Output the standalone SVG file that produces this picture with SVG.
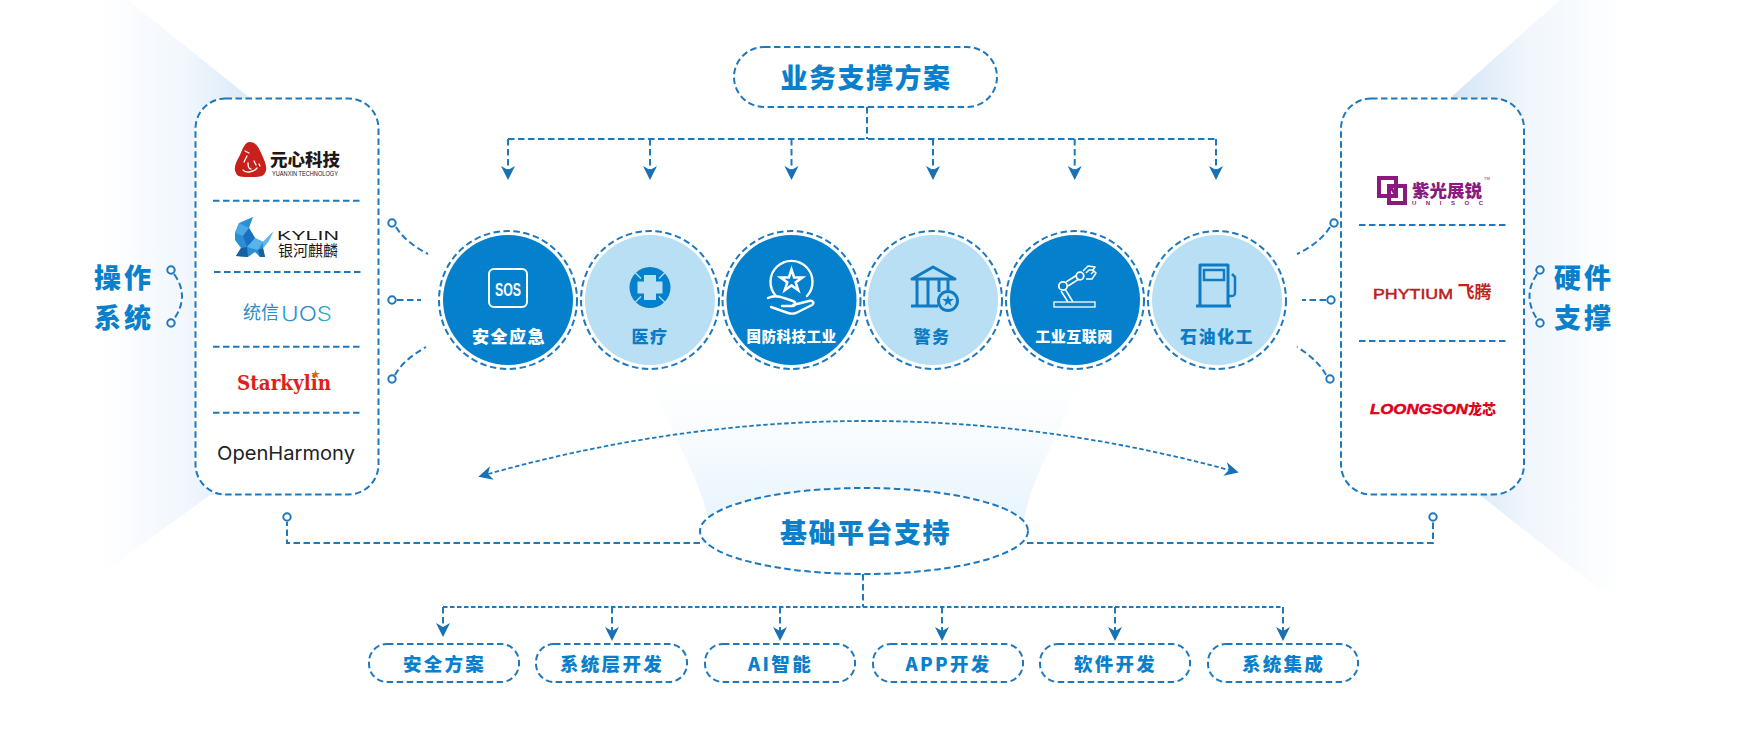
<svg xmlns="http://www.w3.org/2000/svg" xmlns:xlink="http://www.w3.org/1999/xlink" width="1750" height="748" viewBox="0 0 1750 748">
<style>
text{font-family:"Noto Sans CJK SC","Noto Sans",sans-serif;text-anchor:middle}
.d{fill:none;stroke:#1e78bd;stroke-width:2;stroke-dasharray:6.5 3.5}
.dt{fill:none;stroke:#1e78bd;stroke-width:1.8;stroke-dasharray:4.5 2.5}
.box{fill:#fff;stroke:#1e78bd;stroke-width:2;stroke-dasharray:6.5 3.5}
.pin{fill:#fff;stroke:#1e78bd;stroke-width:2}
.h1{fill:#0a80cc;font-size:27px;font-weight:900;letter-spacing:1.500px;dominant-baseline:central}
.h2{fill:#0a80cc;font-size:27px;font-weight:900;letter-spacing:3px;dominant-baseline:central}
.h3{fill:#0a80cc;font-size:18.500px;font-weight:900;letter-spacing:2.300px;dominant-baseline:central}
.lw{fill:#fff;font-weight:900;font-size:17px;letter-spacing:1.500px;dominant-baseline:central}
.lb{fill:#0a7cc6;font-weight:900;font-size:17px;letter-spacing:1.500px;dominant-baseline:central}
.ring{fill:#fff;stroke:#1e78bd;stroke-width:2;stroke-dasharray:6.500 3.500}
.dk{fill:#0480cc}
.lt{fill:#b8dff3}
.iw{fill:none;stroke:#fff;stroke-width:2.400;stroke-linecap:round;stroke-linejoin:round}
.ib{fill:none;stroke:#0f7bc4;stroke-width:3;stroke-linejoin:round}
</style>
<defs>
<linearGradient id="gl" gradientUnits="userSpaceOnUse" x1="100" y1="0" x2="255" y2="0"><stop offset="0" stop-color="#fff"/><stop offset="0.55" stop-color="#f1f7fd"/><stop offset="1" stop-color="#d8e9f8"/></linearGradient>
<linearGradient id="gr" gradientUnits="userSpaceOnUse" x1="1450" y1="0" x2="1620" y2="0"><stop offset="0" stop-color="#d2e5f6"/><stop offset="0.45" stop-color="#f0f6fc"/><stop offset="1" stop-color="#fff"/></linearGradient>
<linearGradient id="gc" gradientUnits="userSpaceOnUse" x1="0" y1="372" x2="0" y2="520"><stop offset="0" stop-color="#fff"/><stop offset="0.4" stop-color="#f9fcfe"/><stop offset="1" stop-color="#e8f4fd"/></linearGradient>
<linearGradient id="guos" gradientUnits="userSpaceOnUse" x1="281" y1="0" x2="332" y2="0"><stop offset="0" stop-color="#2f9fe0"/><stop offset="0.6" stop-color="#2a7fc8"/><stop offset="1" stop-color="#35c0c0"/></linearGradient>
<marker id="ah" markerUnits="userSpaceOnUse" markerWidth="16" markerHeight="16" refX="4" refY="8" orient="auto-start-reverse" viewBox="0 0 16 16"><path d="M0 1 L14 8 L0 15 L4 8 Z" fill="#1771b4"/></marker>
<polygon id="star" points="0,-10 2.25,-3.09 9.51,-3.09 3.63,1.18 5.88,8.09 0,3.82 -5.88,8.09 -3.63,1.18 -9.51,-3.09 -2.25,-3.09"/>
</defs>

<g id="backdrop">
<polygon points="128,0 250,98 250,495 210,495 100,575 100,0" fill="url(#gl)"/>
<polygon points="1560,0 1450,98 1450,495 1480,495 1600,590 1630,590 1630,0" fill="url(#gr)"/>
<path d="M648 372 C668 430 702 480 708 520 L1024 520 C1030 480 1062 430 1084 372 Z" fill="url(#gc)"/>
</g>

<g id="connectors">
<path class="d" d="M867 107V139"/>
<path class="d" d="M508 139H1216"/>
<path class="d" marker-end="url(#ah)" d="M508 139V170"/>
<path class="d" marker-end="url(#ah)" d="M650 139V170"/>
<path class="d" marker-end="url(#ah)" d="M791.500 139V170"/>
<path class="d" marker-end="url(#ah)" d="M933 139V170"/>
<path class="d" marker-end="url(#ah)" d="M1074.700 139V170"/>
<path class="d" marker-end="url(#ah)" d="M1216 139V170"/>
<path class="dt" marker-start="url(#ah)" marker-end="url(#ah)" d="M488 474Q860 370 1229 470"/>
<path class="d" d="M700 543H287V522"/>
<path class="d" d="M1027 543H1433V522"/>
<path class="d" d="M863 574V607"/>
<path class="dt" d="M443 607H1283"/>
<path class="d" marker-end="url(#ah)" d="M443 607V627"/>
<path class="d" marker-end="url(#ah)" d="M612 607V631"/>
<path class="d" marker-end="url(#ah)" d="M780 607V631"/>
<path class="d" marker-end="url(#ah)" d="M942 607V631"/>
<path class="d" marker-end="url(#ah)" d="M1115 607V631"/>
<path class="d" marker-end="url(#ah)" d="M1283 607V631"/>
<path class="d" d="M396 227Q405 242 428 254"/>
<path class="d" d="M397 300H421"/>
<path class="d" d="M395 375Q403 360 426 347"/>
<path class="d" d="M1330 227Q1320 243 1297 254"/>
<path class="d" d="M1326 300H1302"/>
<path class="d" d="M1326 375Q1318 360 1297 347"/>
<path class="d" d="M174 274Q190 296 174 319"/>
<path class="d" d="M1537 274Q1522 296 1537 319"/>
<circle class="pin" cx="392" cy="223" r="3.700"/><circle class="pin" cx="392" cy="300" r="3.700"/><circle class="pin" cx="392" cy="379" r="3.700"/>
<circle class="pin" cx="1334" cy="223" r="3.700"/><circle class="pin" cx="1331" cy="300" r="3.700"/><circle class="pin" cx="1330" cy="379" r="3.700"/>
<circle class="pin" cx="171" cy="270" r="3.700"/><circle class="pin" cx="171" cy="323" r="3.700"/>
<circle class="pin" cx="1540" cy="270" r="3.700"/><circle class="pin" cx="1540" cy="323" r="3.700"/>
<circle class="pin" cx="287" cy="517" r="3.700"/><circle class="pin" cx="1433" cy="517" r="3.700"/>
</g>

<g id="top-node">
<rect class="box" x="734" y="47" width="263" height="60" rx="30"/>
<text class="h1" x="866" y="76">业务支撑方案</text>
</g>

<g id="os-label"><text class="h2" x="124" y="276">操作</text><text class="h2" x="124" y="316">系统</text></g>
<g id="hw-label"><text class="h2" x="1584" y="276">硬件</text><text class="h2" x="1584" y="316">支撑</text></g>

<g id="os-box">
<rect class="box" x="195.500" y="98.500" width="183" height="396" rx="30"/>
<path class="d" d="M213 200.700H362M214 272H362M213 346.700H362M213 412.700H362"/>
<g id="logo-yuanxin">
<path d="M250 142C256 142 259 148 262 155C265 162 268 168 265 173C263 177 258 177 250 177C242 177 237 177 236 173C233 168 236 162 240 155C243 148 245 142 250 142Z" fill="#c9201c"/>
<path d="M245 151l4 2M247 156l-3 6M243 170c2 3 10 3 14-2M248 163c0 4 1 6 3 6M254 161l2 4M259 164l1 2" fill="none" stroke="#fff" stroke-width="1.300" stroke-linecap="round"/>
<text x="305" y="166" font-size="17.500" font-weight="900" fill="#231815">元心科技</text>
<text x="305" y="176" font-size="6.500" font-weight="500" fill="#231815" textLength="66" lengthAdjust="spacingAndGlyphs" style="font-family:'Liberation Sans',sans-serif">YUANXIN TECHNOLOGY</text>
</g>
<g id="logo-kylin">
<polygon points="235,233 239,223 253,217 249,228 255,238 263,242 273,232 268,242 263,248 265,257 260,257 255,252 248,257 236,256 241,248 235,240" fill="#2b8fd6"/>
<polygon points="235,233 239,223 249,228 243,236" fill="#4aa8e4"/>
<polygon points="243,236 249,228 255,238 247,247" fill="#1a6fc0"/>
<polygon points="255,238 263,242 258,250 247,247" fill="#58b4ea"/>
<polygon points="241,248 247,247 248,257 236,256" fill="#16609f"/>
<polygon points="258,250 263,248 265,257 260,257" fill="#1a5f9e"/>
<polygon points="263,242 273,232 268,242 263,248" fill="#62b8ec"/>
<text x="308" y="240" font-size="12.500" font-weight="400" fill="#231815" textLength="62" lengthAdjust="spacingAndGlyphs" style="font-family:'Liberation Sans',sans-serif">KYLIN</text>
<text x="308" y="256" font-size="15" font-weight="400" fill="#231815">银河麒麟</text>
</g>
<g id="logo-uos">
<text x="261" y="319" font-size="18" font-weight="400" fill="#2a8cc8">统信</text>
<text x="306.500" y="321" font-size="20" font-weight="300" fill="url(#guos)" textLength="51" lengthAdjust="spacingAndGlyphs" style="font-family:'Inter',sans-serif">UOS</text>
</g>
<g id="logo-starkylin">
<text x="284" y="390" font-size="20" font-weight="700" fill="#e01e20" textLength="94" lengthAdjust="spacingAndGlyphs" style="font-family:'DejaVu Serif',serif">Starkylin</text>
<use xlink:href="#star" href="#star" transform="translate(315.500 374.500) scale(.45)" fill="#e8621e"/>
</g>
<g id="logo-openharmony">
<text x="286" y="460" font-size="19" font-weight="400" fill="#222" textLength="138" lengthAdjust="spacingAndGlyphs" style="font-family:'Inter',sans-serif">OpenHarmony</text>
</g>
</g>

<g id="hw-box">
<rect class="box" x="1341" y="98.500" width="183" height="396" rx="30"/>
<path class="d" d="M1359 225H1507M1359 341H1507"/>
<g id="logo-unisoc">
<rect x="1379" y="178" width="17" height="18" fill="none" stroke="#8a1a80" stroke-width="4"/>
<rect x="1389" y="186" width="16" height="17" fill="none" stroke="#8a1a80" stroke-width="4"/>
<path d="M1390 186L1397 197" stroke="#8a1a80" stroke-width="3"/>
<text x="1447" y="197" font-size="17.500" font-weight="900" fill="#8a1a80">紫光展锐</text>
<text x="1447.500" y="205" font-size="6" font-weight="700" fill="#8a1a80" textLength="71" style="font-family:'Liberation Sans',sans-serif">UNISOC</text>
<text x="1487" y="180" font-size="4" fill="#8a1a80" style="font-family:'Liberation Sans',sans-serif">TM</text>
</g>
<g id="logo-phytium">
<text x="1413" y="298.500" font-size="15" font-weight="400" fill="#b8201c" textLength="80" lengthAdjust="spacingAndGlyphs" stroke="#b8201c" stroke-width=".5" style="font-family:'Liberation Sans',sans-serif">PHYTIUM</text>
<text x="1474.500" y="298" font-size="17" font-weight="700" fill="#c0261c">飞腾</text>
</g>
<g id="logo-loongson">
<text x="1419" y="414" font-size="15" font-weight="700" font-style="italic" fill="#e0001a" stroke="#e0001a" stroke-width=".5" textLength="98" lengthAdjust="spacingAndGlyphs" style="font-family:'Liberation Sans',sans-serif">LOONGSON</text>
<text x="1482" y="414" font-size="14" font-weight="900" fill="#e0001a">龙芯</text>
</g>
</g>

<g id="sol-safety">
<circle class="ring" cx="508" cy="300" r="69"/><circle class="dk" cx="508" cy="300" r="65"/>
<rect x="489" y="269" width="38" height="38" rx="5" fill="none" stroke="#fff" stroke-width="2"/>
<text x="508" y="296" font-size="19" font-weight="700" fill="#fff" textLength="26" lengthAdjust="spacingAndGlyphs" style="font-family:'Liberation Sans',sans-serif">SOS</text>
<text class="lw" x="509" y="335">安全应急</text>
</g>
<g id="sol-medical">
<circle class="ring" cx="650" cy="300" r="69"/><circle class="lt" cx="650" cy="300" r="65"/>
<circle cx="650" cy="287.500" r="20.500" fill="#0480cc"/>
<rect x="634" y="271.500" width="32" height="32" rx="7" transform="rotate(45 650 287.500)" fill="#0480cc"/>
<path d="M644 275h12v6.500h6.500v12H656v6.500h-12v-6.500h-6.500v-12H644Z" fill="#b8dff3"/>
<path d="M635 272.500l6 6M665 272.500l-6 6M635 302.500l6-6M665 302.500l-6-6" stroke="#b8dff3" stroke-width="1.200"/>
<text class="lb" x="650" y="335">医疗</text>
</g>
<g id="sol-defense">
<circle class="ring" cx="791.500" cy="300" r="69"/><circle class="dk" cx="791.500" cy="300" r="65"/>
<path class="iw" d="M776 296A21 21 0 1 1 807 296"/>
<use xlink:href="#star" href="#star" transform="translate(791.500 281) scale(1.150)" fill="none" stroke="#fff" stroke-width="2.200"/>
<path class="iw" d="M768 298c6-3 11-2 16 0l9 3c3 1 3 5-1 5h-10M793 305l16-4c4-1 6 2 3 4l-16 8c-3 1-5 1-8 0l-17-6"/>
<text class="lw" x="791.500" y="335" style="font-size:14.500px;letter-spacing:.5px">国防科技工业</text>
</g>
<g id="sol-police">
<circle class="ring" cx="933" cy="300" r="69"/><circle class="lt" cx="933" cy="300" r="65"/>
<path class="ib" d="M912 279L933 267L955 279Z"/>
<path class="ib" d="M917 280V305M928 280V305M939 280V292M948 280V290M911 306H938"/>
<circle cx="948" cy="301" r="9.500" fill="#b8dff3" stroke="#0f7bc4" stroke-width="3"/>
<use xlink:href="#star" href="#star" transform="translate(948 301) scale(.62)" fill="#0f7bc4"/>
<text class="lb" x="932" y="335">警务</text>
</g>
<g id="sol-industry">
<circle class="ring" cx="1075" cy="300" r="69"/><circle class="dk" cx="1075" cy="300" r="65"/>
<rect x="1054" y="302" width="41" height="5" fill="none" stroke="#fff" stroke-width="1.300"/>
<path d="M1061 291L1068 302M1065 289L1073 302M1066 282L1077 275M1068 286L1079 279" stroke="#fff" stroke-width="1.500" fill="none"/>
<circle cx="1063" cy="286" r="4.200" fill="none" stroke="#fff" stroke-width="1.800"/>
<circle cx="1080" cy="276" r="3.800" fill="none" stroke="#fff" stroke-width="1.800"/>
<path d="M1083 271l5-5l7 1l-2 3l-4 0l-3 3M1086 279l6 0l4-6l-2-2l-3 3" fill="none" stroke="#fff" stroke-width="1.500" stroke-linejoin="round"/>
<text class="lw" x="1074" y="335" style="font-size:15px;letter-spacing:.5px">工业互联网</text>
</g>
<g id="sol-oil">
<circle class="ring" cx="1217" cy="300" r="69"/><circle class="lt" cx="1217" cy="300" r="65"/>
<path class="ib" d="M1200 305V265H1228V305M1196 306H1231"/>
<rect x="1204" y="270" width="20" height="10" fill="none" stroke="#0f7bc4" stroke-width="2.500"/>
<path d="M1228 296h4c3 0 3-2 3-5v-14l-3-3" fill="none" stroke="#0f7bc4" stroke-width="2.500"/>
<text class="lb" x="1217" y="335">石油化工</text>
</g>

<g id="base-node">
<ellipse class="box" cx="864" cy="531" rx="164" ry="43"/>
<text class="h1" x="865.500" y="531">基础平台支持</text>
</g>

<g id="cap-1"><rect class="box" x="369" y="644" width="150" height="38" rx="18"/><text class="h3" x="444.500" y="663">安全方案</text></g>
<g id="cap-2"><rect class="box" x="536" y="644" width="151" height="38" rx="18"/><text class="h3" x="612" y="663">系统层开发</text></g>
<g id="cap-3"><rect class="box" x="705" y="644" width="150" height="38" rx="18"/><text class="h3" x="780.500" y="663">AI智能</text></g>
<g id="cap-4"><rect class="box" x="873" y="644" width="150" height="38" rx="18"/><text class="h3" x="948.500" y="663">APP开发</text></g>
<g id="cap-5"><rect class="box" x="1040" y="644" width="150" height="38" rx="18"/><text class="h3" x="1115.500" y="663">软件开发</text></g>
<g id="cap-6"><rect class="box" x="1208" y="644" width="150" height="38" rx="18"/><text class="h3" x="1283.500" y="663">系统集成</text></g>
</svg>
